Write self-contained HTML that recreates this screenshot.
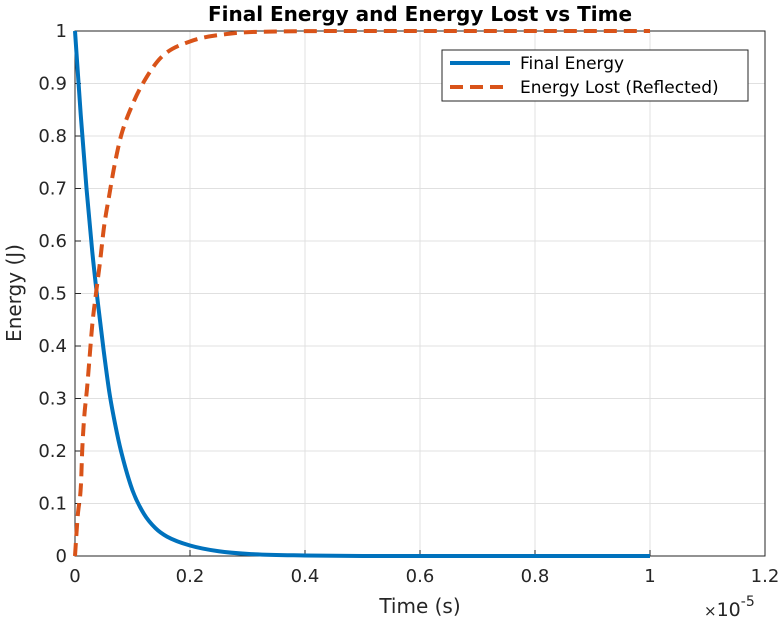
<!DOCTYPE html>
<html><head><meta charset="utf-8"><style>
body{margin:0;background:#fff;}
svg{display:block;font-family:"DejaVu Sans","Liberation Sans",sans-serif;}
</style></head><body>
<svg id="chart" width="783" height="621">
<rect width="783" height="621" fill="#fff"/>
<g id="grid"></g>
<g id="axes"></g>
<g id="series"></g>
<text x="420" y="21" text-anchor="middle" font-weight="bold" font-size="20" fill="#000">Final Energy and Energy Lost vs Time</text>
<text x="420" y="613" text-anchor="middle" font-size="20" fill="#262626">Time (s)</text>
<text transform="translate(21,293) rotate(-90)" text-anchor="middle" font-size="20" fill="#262626">Energy (J)</text>
<text x="704" y="616" font-size="19" fill="#262626"><tspan font-size="15">×</tspan>10<tspan dy="-10" font-size="14">-5</tspan></text>
<g>
<rect x="442" y="50" width="306" height="51" fill="#fff" stroke="#262626" stroke-width="1"/>
<g>
<line x1="450" y1="63" x2="510" y2="63" stroke="#0072BD" stroke-width="4"/>
<text x="520" y="69" font-size="17" fill="#000">Final Energy</text></g>
<g>
<line x1="450" y1="87" x2="510" y2="87" stroke="#D95319" stroke-width="4" stroke-dasharray="13,7"/>
<text x="520" y="93" font-size="17" fill="#000">Energy Lost (Reflected)</text></g>
</g>
</svg>
<script>
const finalTimes=[0,0.01,0.02,0.03,0.04,0.05,0.06,0.07,0.08,0.1,0.12,0.14,0.16,0.2,0.25,0.3,0.4,0.5,1.0];
const finalEnergy=[1,0.84,0.7,0.58,0.48,0.39,0.31,0.25,0.2,0.125,0.08,0.053,0.037,0.02,0.009,0.004,0.001,0,0];
const lostTimes=[0,0.0047,0.0104,0.0125,0.0157,0.021,0.0255,0.030,0.0365,0.0435,0.0505,0.06,0.068,0.08,0.1,0.118,0.15,0.2,0.27,0.35,0.5,1.0];
const energyLost=[0,0.076,0.137,0.2,0.26,0.32,0.38,0.44,0.5,0.56,0.627,0.69,0.74,0.8,0.86,0.9,0.95,0.98,0.995,0.999,1,1];
const xTicks=[0,0.2,0.4,0.6,0.8,1,1.2];
const yTicks=[0,0.1,0.2,0.3,0.4,0.5,0.6,0.7,0.8,0.9,1];
const X0=75,X1=765,Y0=556,Y1=31;
const sx=v=>X0+(v/1.2)*(X1-X0), sy=v=>Y0-v*(Y0-Y1);
const NS="http://www.w3.org/2000/svg";
function mk(t,a,p){const e=document.createElementNS(NS,t);for(const k in a)e.setAttribute(k,a[k]);p.appendChild(e);return e;}
const grid=document.getElementById('grid'),axes=document.getElementById('axes'),ser=document.getElementById('series');
xTicks.forEach(v=>{const l=mk('line',{x1:sx(v),x2:sx(v),y1:Y1,y2:Y0,stroke:'#e0e0e0','stroke-width':1},grid);

const t=mk('text',{x:sx(v),y:Y0+26,'text-anchor':'middle','font-size':18,fill:'#262626'},axes);t.textContent=String(v);

mk('line',{x1:sx(v),x2:sx(v),y1:Y0,y2:Y0-6,stroke:'#262626'},axes);});
yTicks.forEach(v=>{const l=mk('line',{x1:X0,x2:X1,y1:sy(v),y2:sy(v),stroke:'#e0e0e0','stroke-width':1},grid);

const t=mk('text',{x:X0-8,y:sy(v)+6,'text-anchor':'end','font-size':18,fill:'#262626'},axes);t.textContent=String(v);

mk('line',{x1:X0,x2:X0+6,y1:sy(v),y2:sy(v),stroke:'#262626'},axes);});
const box=mk('rect',{x:X0,y:Y1,width:X1-X0,height:Y0-Y1,fill:'none',stroke:'#262626','stroke-width':1},axes);

function smoothPath(ts,vs){
  const xs=ts.map(sx),ys=vs.map(sy),n=xs.length;
  const d=[],m=[];
  for(let i=0;i<n-1;i++)d.push((ys[i+1]-ys[i])/(xs[i+1]-xs[i]));
  m[0]=d[0];m[n-1]=d[n-2];
  for(let i=1;i<n-1;i++)m[i]=(d[i-1]*d[i]<=0)?0:(d[i-1]+d[i])/2;
  for(let i=0;i<n-1;i++){if(d[i]===0){m[i]=0;m[i+1]=0;continue;}
    const a=m[i]/d[i],b=m[i+1]/d[i],s=a*a+b*b;
    if(s>9){const t=3/Math.sqrt(s);m[i]=t*a*d[i];m[i+1]=t*b*d[i];}}
  let p='M'+xs[0]+','+ys[0];
  for(let i=0;i<n-1;i++){const h=(xs[i+1]-xs[i])/3;
    p+=' C'+(xs[i]+h)+','+(ys[i]+m[i]*h)+' '+(xs[i+1]-h)+','+(ys[i+1]-m[i+1]*h)+' '+xs[i+1]+','+ys[i+1];}
  return p;
}
const p1=mk('path',{d:smoothPath(finalTimes,finalEnergy),fill:'none',stroke:'#0072BD','stroke-width':4,'stroke-linejoin':'round'},ser);

const p2=mk('path',{d:smoothPath(lostTimes,energyLost),fill:'none',stroke:'#D95319','stroke-width':4,'stroke-dasharray':'13,7'},ser);

</script>
</body></html>
